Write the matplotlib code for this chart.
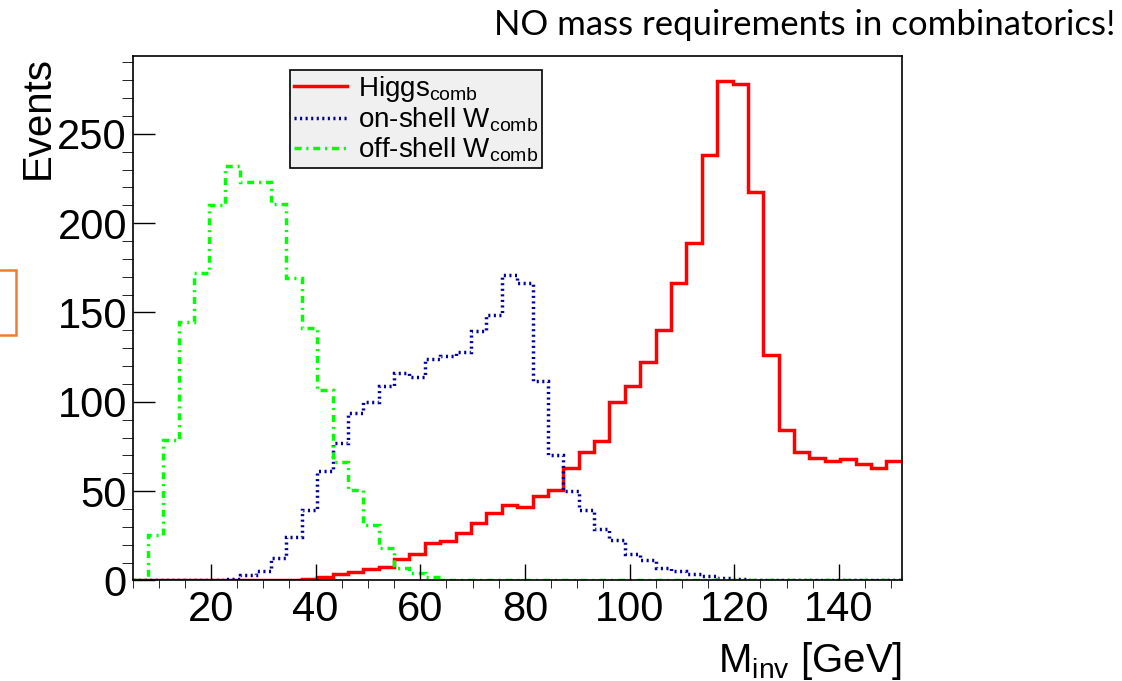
import matplotlib
matplotlib.use("Agg")
import matplotlib.pyplot as plt
from matplotlib.lines import Line2D
from matplotlib.patches import Rectangle
from matplotlib.ticker import MultipleLocator
import numpy as np

plt.rcParams['font.family'] = ['Liberation Sans', 'DejaVu Sans']
plt.rcParams['mathtext.fontset'] = 'custom'
plt.rcParams['mathtext.rm'] = 'Liberation Sans'
plt.rcParams['mathtext.it'] = 'Liberation Sans:italic'

# 50 bins between 5 and 152 GeV
n_bins = 50
x_lo, x_hi = 5, 152

higgs = [0, 0, 0, 0, 0, 0, 0, 0, 0, 0.5,
         0.5, 1, 2, 3.6, 4.8, 6.4, 7.8, 11.8, 14.8, 20.8,
         22.3, 26.6, 32.1, 38.0, 42.3, 41.0, 47.2, 50.4, 62.8, 71.9,
         77.9, 99.9, 108.8, 122.4, 140.4, 166.5, 188.6, 237.9, 279.7, 277.6,
         217.6, 126.2, 84.2, 71.9, 68.5, 66.7, 67.9, 65.2, 62.8, 66.6]

w_onshell = [0, 0, 0, 0, 0, 0, 1, 3, 5.3, 12.4,
             24.3, 39.5, 61.5, 77.2, 93.6, 100.1, 108.9, 116, 114.1, 123.8,
             125.7, 128.1, 139.9, 148.7, 171, 166.4, 111.7, 70.3, 49.8, 39.7,
             28.8, 22.7, 14.7, 11.7, 7.1, 5.2, 3.7, 2.6, 1.5, 1,
             0.5, 0.5, 0, 0, 0, 0, 0, 0, 0, 0]

w_offshell = [0, 25.5, 78.7, 144.9, 172, 210.4, 231.7, 222.8, 222.8, 210.6,
              169.2, 141.2, 106.7, 66.2, 50.7, 30.9, 18, 6.8, 4.4, 1.8,
              0, 0, 0, 0, 0, 0, 0, 0, 0, 0,
              0, 0, 0, 0, 0, 0, 0, 0, 0, 0,
              0, 0, 0, 0, 0, 0, 0, 0, 0, 0]

labels = [r'Higgs$_{\rm comb}$', r'on-shell W$_{\rm comb}$', r'off-shell W$_{\rm comb}$']
colors = ['#ff0000', '#000099', '#00ff00']
styles = ['-', (0, (0.6, 1.0)), (0, (2.0, 1.4, 0.6, 1.4))]

edges = np.linspace(x_lo, x_hi, n_bins + 1)

fig = plt.figure(figsize=(11.22, 6.81), dpi=100)
ax = fig.add_axes([0.1181, 0.1476, 0.6856, 0.7706])

for vals, c, ls in zip([higgs, w_onshell, w_offshell], colors, styles):
    ax.stairs(vals, edges, baseline=None, color=c, linestyle=ls, linewidth=2.5)

ax.set_xlim(x_lo, x_hi)
ax.set_ylim(0, 1.05 * max(higgs))

ax.set_xticks(np.arange(20, 141, 20))
ax.set_yticks(np.arange(0, 251, 50))
ax.xaxis.set_minor_locator(MultipleLocator(5))
ax.yaxis.set_minor_locator(MultipleLocator(10))
ax.tick_params(direction='in', labelsize=30, width=1.0, top=False, right=False)
ax.tick_params(axis='x', which='major', length=11.5, pad=7)
ax.tick_params(axis='x', which='minor', length=5.8)
ax.tick_params(axis='y', which='major', length=16, pad=4)
ax.tick_params(axis='y', which='minor', length=8)
for s in ax.spines.values():
    s.set_linewidth(1.2)

ax.set_ylabel('Events', fontsize=29, loc='top')
ax.yaxis.set_label_coords(-0.098, 1.0)
ax.set_xlabel(r'M$_{\rm inv}$ [GeV]', fontsize=29, loc='right')
ax.xaxis.set_label_coords(1.0, -0.113)

handles = [Line2D([], [], color=c, linestyle=ls, linewidth=2.5) for c, ls in zip(colors, styles)]
leg = ax.legend(handles, labels, loc='upper left', bbox_to_anchor=(290 / 1122, 1 - 70 / 681),
                bbox_transform=fig.transFigure, borderaxespad=0, fontsize=20,
                handlelength=1.9, handletextpad=0.4, labelspacing=0.05, borderpad=0.15,
                fancybox=False, framealpha=1, facecolor='#f0f0f0', edgecolor='black')
leg.get_frame().set_linewidth(1.2)

fig.text(1115 / 1122, 1 - 25 / 681, 'NO mass requirements in combinatorics!',
         family='Lato', fontsize=25, ha='right', va='center')

# orange box peeking in from the left edge
fig.patches.append(Rectangle((-0.02, 1 - 335 / 681), 0.02 + 16 / 1122, 65 / 681,
                             fill=False, edgecolor='#ed7d31', linewidth=1.8,
                             transform=fig.transFigure, figure=fig))

fig.savefig('out.png', dpi=100)
